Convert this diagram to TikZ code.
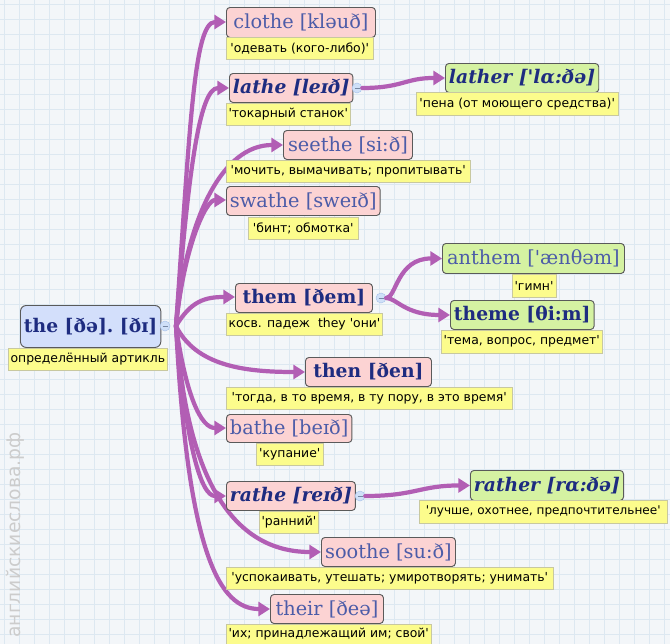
\documentclass[tikz,border=0pt]{standalone}
\usepackage{fontspec}
\setmainfont{DejaVu Sans}
\newfontfamily\headfont{DejaVu Serif}
\newfontfamily\glossfont{DejaVu Sans}
\usetikzlibrary{arrows.meta}

\definecolor{paper}{HTML}{F3F6F9}
\definecolor{gridline}{HTML}{DDE8F1}
\definecolor{pinkbox}{HTML}{FCD3D3}
\definecolor{greenbox}{HTML}{D5F2A2}
\definecolor{bluebox}{HTML}{D3DFFB}
\definecolor{glossbox}{HTML}{FCFC8C}
\definecolor{glossedge}{HTML}{C8C8A0}
\definecolor{boxedge}{HTML}{5A5A5A}
\definecolor{wordblue}{HTML}{4C5CA8}
\definecolor{wordnavy}{HTML}{1E2C80}
\definecolor{branchpurple}{HTML}{B25EB4}
\definecolor{knobfill}{HTML}{CFE0F8}
\definecolor{knobedge}{HTML}{A9C2EA}

\def\px{0.03cm}

\tikzset{
  wordbox/.style={draw=boxedge, line width=0.8pt, rounded corners=3pt, anchor=north west,
    inner xsep=3pt, inner ysep=1pt, minimum height=29*\px, text=wordblue,
    font=\headfont\fontsize{16.5}{18}\selectfont},
  pinkword/.style={wordbox, fill=pinkbox},
  greenword/.style={wordbox, fill=greenbox},
  boldword/.style={text=wordnavy, font=\headfont\bfseries\fontsize{16}{18}\selectfont},
  italword/.style={text=wordnavy, font=\headfont\bfseries\itshape\fontsize{16}{18}\selectfont},
  gloss/.style={draw=glossedge, fill=glossbox, anchor=north west, inner xsep=2pt, inner ysep=1pt,
    minimum height=22*\px, font=\glossfont\fontsize{10.6}{12}\selectfont},
  branch/.style={draw=branchpurple, line width=3.6pt, line cap=round,
    -{Triangle[length=10pt,width=12pt]}},
  knob/.style={circle, draw=knobedge, fill=knobfill, inner sep=0pt, minimum size=10*\px,
    path picture={\draw[knobedge!70!black, line width=0.5pt] ([xshift=-2.5*\px]path picture bounding box.center) -- ([xshift=2.5*\px]path picture bounding box.center);}}
}

\begin{document}
\begin{tikzpicture}[x=\px, y=-\px]
  % Define dimensions
  \def\gridwidth{670}
  \def\gridheight{644}
  \def\spacing{15}
  \useasboundingbox (0,0) rectangle (\gridwidth,\gridheight);
  % Draw grid paper
  \fill[paper] (0,0) rectangle (\gridwidth,\gridheight);
  \foreach \x in {0,1,...,44}
    \draw[gridline, line width=0.6pt] (\x*\spacing+4,0) -- (\x*\spacing+4,\gridheight);
  \foreach \y in {0,1,...,42}
    \draw[gridline, line width=0.6pt] (0,\y*\spacing+4) -- (\gridwidth,\y*\spacing+4);

  % Watermark
  \node[rotate=90, text=black!20, font=\fontsize{16}{16}\selectfont] (mark) at (15,535) {английскиеслова.рф};

  % Connectors from the root (drawn first, under the boxes)
  \coordinate (hub) at (176,326);
  \coordinate (clothein) at (226,22);
  \coordinate (lathein) at (229,88);
  \coordinate (seethein) at (283,145);
  \coordinate (swathein) at (226,200);
  \coordinate (themin) at (235,297);
  \coordinate (thenin) at (305,372);
  \coordinate (bathein) at (226,428);
  \coordinate (rathein) at (226,496);
  \coordinate (soothein) at (321,552);
  \coordinate (theirin) at (270,609);
  \draw[branch] (hub) .. controls +(14,-200) and +(-32,0) .. (clothein);
  \draw[branch] (hub) .. controls +(12,-150) and +(-30,0) .. (lathein);
  \draw[branch] (hub) .. controls +(10,-110) and +(-60,0) .. (seethein);
  \draw[branch] (hub) .. controls +(8,-80) and +(-20,0) .. (swathein);
  \draw[branch] (hub) .. controls +(15,-25) and +(-30,0) .. (themin);
  \draw[branch] (hub) .. controls +(20,40) and +(-60,0) .. (thenin);
  \draw[branch] (hub) .. controls +(10,70) and +(-25,0) .. (bathein);
  \draw[branch] (hub) .. controls +(10,120) and +(-25,0) .. (rathein);
  \draw[branch] (hub) .. controls +(10,150) and +(-90,0) .. (soothein);
  \draw[branch] (hub) .. controls +(12,230) and +(-50,0) .. (theirin);

  % Root
  \node[wordbox, fill=bluebox, boldword, minimum width=137*\px, minimum height=42*\px, rounded corners=5pt] (the) at (20,305) {the [ðə].\ [ðɪ]};
  \node[gloss, minimum width=159*\px] (thegloss) at (8,348) {определённый артикль};
  \node[knob] (theknob) at (165,326) {};

  % First level words
  \node[pinkword, minimum width=149*\px, minimum height=30*\px] (clothe) at (226,7) {clothe [kləuð]};
  \node[gloss, minimum width=147*\px] (clothegloss) at (226,37) {'одевать (кого-либо)'};

  \node[pinkword, italword, minimum width=119*\px] (lathe) at (229,73) {lathe [leɪð]};
  \node[gloss, minimum width=124*\px] (lathegloss) at (226,103) {'токарный станок'};

  \node[pinkword, minimum width=129*\px] (seethe) at (283,130) {seethe [si:ð]};
  \node[gloss, minimum width=244*\px] (seethegloss) at (226,160) {'мочить, вымачивать; пропитывать'};

  \node[pinkword, minimum width=152*\px] (swathe) at (226,186) {swathe [sweɪð]};
  \node[gloss, minimum width=110*\px] (swathegloss) at (248,217) {'бинт; обмотка'};

  \node[pinkword, boldword, minimum width=137*\px] (them) at (235,283) {them [ðem]};
  \node[gloss, minimum width=156*\px] (themgloss) at (226,313) {косв. падеж\ \ they 'они'};

  \node[pinkword, boldword, minimum width=126*\px] (then) at (305,357) {then [ðen]};
  \node[gloss, minimum width=286*\px] (thengloss) at (226,387) {'тогда, в то время, в ту пору, в это время'};

  \node[pinkword, minimum width=123*\px, minimum height=28*\px] (bathe) at (226,414) {bathe [beɪð]};
  \node[gloss, minimum width=67*\px] (bathegloss) at (256,443) {'купание'};

  \node[pinkword, italword, minimum width=123*\px] (rathe) at (226,481) {rathe [reɪð]};
  \node[gloss, minimum width=59*\px] (rathegloss) at (259,511) {'ранний'};

  \node[pinkword, minimum width=134*\px] (soothe) at (321,537) {soothe [su:ð]};
  \node[gloss, minimum width=327*\px] (soothegloss) at (226,567) {'успокаивать, утешать; умиротворять; унимать'};

  \node[pinkword, minimum width=113*\px] (their) at (270,594) {their [ðeə]};
  \node[gloss, minimum width=202*\px, minimum height=20*\px] (theirgloss) at (226,624) {'их; принадлежащий им; свой'};

  % Second level words
  \node[greenword, italword, minimum width=145*\px] (lather) at (445,63) {lather ['lɑ:ðə]};
  \node[gloss, minimum width=202*\px, minimum height=23*\px] (lathergloss) at (416,92) {'пена (от моющего средства)'};

  \node[greenword, minimum width=182*\px, minimum height=30*\px] (anthem) at (442,243) {anthem ['ænθəm]};
  \node[gloss, minimum width=41*\px, minimum height=23*\px] (anthemgloss) at (512,274) {'гимн'};

  \node[greenword, boldword, minimum width=142*\px] (theme) at (450,300) {theme [θi:m]};
  \node[gloss, minimum width=161*\px, minimum height=23*\px] (themegloss) at (441,330) {'тема, вопрос, предмет'};

  \node[greenword, italword, minimum width=151*\px, minimum height=30*\px] (rather) at (470,470) {rather [rɑ:ðə]};
  \node[gloss, minimum width=248*\px, minimum height=23*\px, inner xsep=1pt, font=\glossfont\fontsize{10.3}{12}\selectfont] (rathergloss) at (419,500) {'лучше, охотнее, предпочтительнее'};

  % Knobs and second level connectors
  \node[knob] (latheknob) at (357,88) {};
  \node[knob] (themknob) at (381,298) {};
  \node[knob] (ratheknob) at (360,496) {};
  \draw[branch] (latheknob.east) .. controls +(40,0) and +(-40,0) .. (lather.west);
  \draw[branch] (themknob.east) .. controls +(10,0) and +(-45,0) .. (anthem.west);
  \draw[branch] (themknob.east) .. controls +(10,0) and +(-45,0) .. (theme.west);
  \draw[branch] (ratheknob.east) .. controls +(50,0) and +(-50,0) .. (rather.west);
\end{tikzpicture}
\end{document}
